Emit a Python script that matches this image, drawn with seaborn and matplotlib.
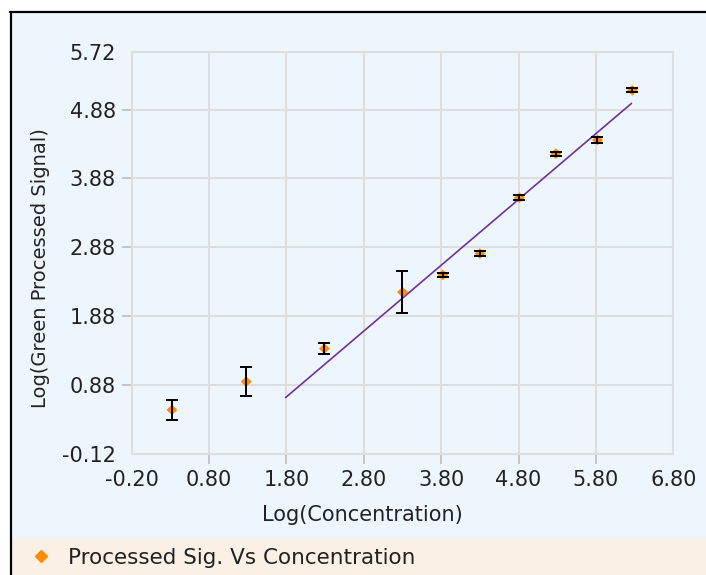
import matplotlib
matplotlib.use("Agg")
import matplotlib.pyplot as plt
from matplotlib.patches import Rectangle
from matplotlib.lines import Line2D
import seaborn as sns
import pandas as pd

# ---- data ----
conc = [0.32, 1.28, 2.29, 3.30, 3.82, 4.30, 4.81, 5.28, 5.82, 6.27]
signal = [0.52, 0.93, 1.41, 2.23, 2.48, 2.79, 3.60, 4.24, 4.44, 5.16]
err = [0.14, 0.21, 0.08, 0.30, 0.03, 0.04, 0.04, 0.03, 0.04, 0.03]
fit_x = [1.79, 6.26]
fit_y = [0.70, 4.97]
x_ticks = [-0.20, 0.80, 1.80, 2.80, 3.80, 4.80, 5.80, 6.80]
y_ticks = [-0.12, 0.88, 1.88, 2.88, 3.88, 4.88, 5.72]
series_label = "Processed Sig. Vs Concentration"

df = pd.DataFrame({"conc": conc, "signal": signal, "err": err})
fit_df = pd.DataFrame({"x": fit_x, "y": fit_y})

sns.set_theme(style="white")
plt.rcParams["font.family"] = ["DejaVu Sans"]

W, H = 706, 575
fig = plt.figure(figsize=(W / 100, H / 100), dpi=100)
fig.patch.set_facecolor("white")

BG = "#EEF6FD"
LEG_BG = "#FAF0E6"
GRID = "#DEDEDE"
TXT = "#222222"

# outer panel background
fig.patches.append(Rectangle((11 / W, 0), 1 - 11 / W, 1 - 12 / H, transform=fig.transFigure,
                             facecolor=BG, edgecolor="none", zorder=-3))
# legend strip
fig.patches.append(Rectangle((12 / W, 0), 1 - 12 / W, (H - 539) / H, transform=fig.transFigure,
                             facecolor=LEG_BG, edgecolor="none", zorder=-2))
# black border lines (top and left)
fig.lines.append(Line2D([10 / W, 1], [1 - 12 / H, 1 - 12 / H], transform=fig.transFigure,
                        color="black", lw=1.6, zorder=3))
fig.lines.append(Line2D([11 / W, 11 / W], [0, 1 - 12 / H], transform=fig.transFigure,
                        color="black", lw=1.6, zorder=3))

AX_L, AX_R, AX_T, AX_B = 131.7, 673.3, 51.7, 454.0
ax = fig.add_axes([AX_L / W, 1 - AX_B / H, (AX_R - AX_L) / W, (AX_B - AX_T) / H])
ax.set_facecolor(BG)

# fit line
sns.lineplot(data=fit_df, x="x", y="y", ax=ax, color="#7030A0", lw=1.2, zorder=3, legend=False)
# points
sns.scatterplot(data=df, x="conc", y="signal", ax=ax, marker="D", s=30, color="#FF8C00",
                edgecolor="none", zorder=4, legend=False)
# error bars
ax.errorbar(df["conc"], df["signal"], yerr=df["err"], fmt="none", ecolor="black",
            elinewidth=1.4, capsize=4.3, capthick=1.4, zorder=5)

ax.set_xlim(-0.2, 6.8)
ax.set_ylim(-0.12, 5.72)
ax.set_xticks(x_ticks)
ax.set_yticks(y_ticks)
ax.set_xticklabels([f"{v:.2f}" for v in x_ticks])
ax.set_yticklabels([f"{v:.2f}" for v in y_ticks])
ax.grid(True, color=GRID, lw=1.5)
for sp in ax.spines.values():
    sp.set_color(GRID)
    sp.set_linewidth(1.5)
ax.tick_params(axis="both", which="major", length=7, width=1.2, color="#BDBDBD",
               labelsize=15, labelcolor=TXT, pad=4.5, direction="out",
               bottom=True, left=True)
# no tick marks at the plot edges
for t in (ax.xaxis.get_major_ticks()[0], ax.xaxis.get_major_ticks()[-1],
          ax.yaxis.get_major_ticks()[0], ax.yaxis.get_major_ticks()[-1]):
    t.tick1line.set_visible(False)

ax.set_xlabel("Log(Concentration)", fontsize=15, color=TXT)
ax.set_ylabel("Log(Green Processed Signal)", fontsize=14, color=TXT)
ax.xaxis.set_label_coords((362 - AX_L) / (AX_R - AX_L), (AX_B - 515) / (AX_B - AX_T))
ax.xaxis.label.set_va("center")
ax.yaxis.set_label_coords((41 - AX_L) / (AX_R - AX_L), (AX_B - 268) / (AX_B - AX_T))
ax.yaxis.label.set_va("center")

# legend
handle = Line2D([], [], marker="D", ls="none", color="#FF8C00", markersize=6.5)
fig.legend([handle], [series_label], loc="center left",
           bbox_to_anchor=(10 / W, 1 - 558 / H), frameon=False, fontsize=15.5,
           handletextpad=0.7, handlelength=1.1, labelcolor=TXT)

fig.savefig("out.png", dpi=100, facecolor=fig.get_facecolor())
